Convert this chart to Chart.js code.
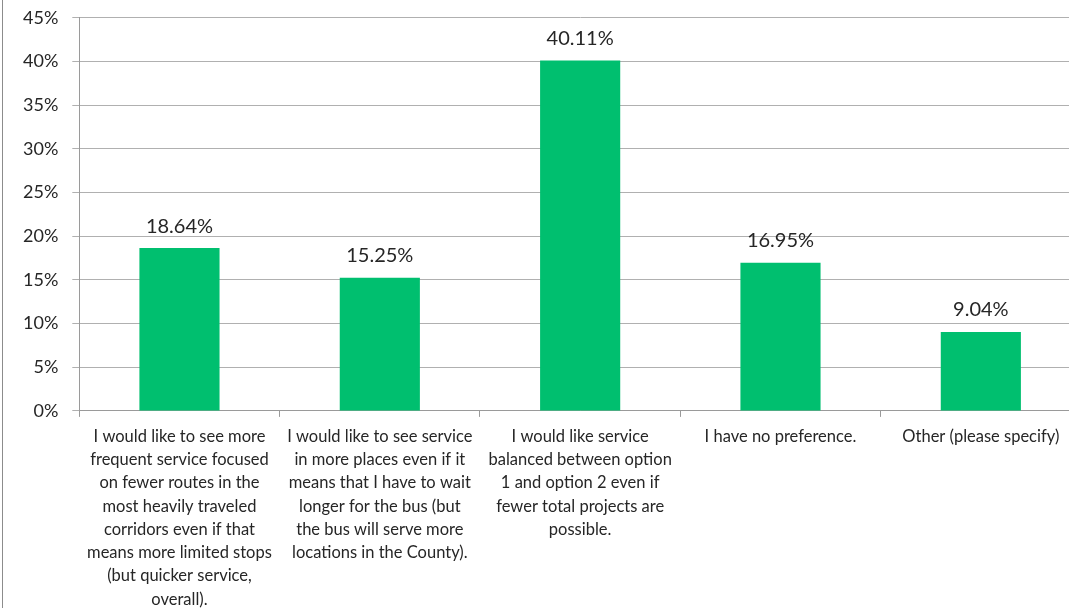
<!DOCTYPE html>
<html>
<head>
<meta charset="utf-8">
<script src="https://cdn.jsdelivr.net/npm/chart.js@4/dist/chart.umd.min.js"></script>
<style>
  html, body { margin: 0; padding: 0; background: #fff; overflow: hidden; }
  #frame { position: absolute; left: 2px; top: 0; width: 1080px; height: 619px; border-left: 1px solid #8c8c8c; overflow: hidden; }
  #chart-wrap { position: absolute; left: 0; top: -7px; width: 1078px; height: 626px; }
</style>
</head>
<body>
<div id="frame">
  <div id="chart-wrap"><canvas id="bar-chart"></canvas></div>
</div>
<script>
// category labels, already split into the lines shown in the picture
const categories = [
    ['I would like to see more', 'frequent service focused', 'on fewer routes in the', 'most heavily traveled',
     'corridors even if that', 'means more limited stops', '(but quicker service,', 'overall).'],
    ['I would like to see service', 'in more places even if it', 'means that I have to wait',
     'longer for the bus (but', 'the bus will serve more', 'locations in the County).'],
    ['I would like service', 'balanced between option', '1 and option 2 even if', 'fewer total projects are', 'possible.'],
    ['I have no preference.'],
    ['Other (please specify)']
];
const percentValues = [18.64, 15.25, 40.11, 16.95, 9.04]; // %
const yTicks = [0, 5, 10, 15, 20, 25, 30, 35, 40, 45];

const barColor = '#00bf6f';
const textColor = '#262626';
const fontFamily = 'Lato, "Open Sans", sans-serif';

// draws the value above each bar
const valueLabels = {
    id: 'valueLabels',
    afterDatasetsDraw(chart) {
        const ctx = chart.ctx;
        const meta = chart.getDatasetMeta(0);
        ctx.save();
        ctx.font = '20px ' + fontFamily;
        ctx.fillStyle = textColor;
        ctx.textAlign = 'center';
        ctx.textBaseline = 'bottom';
        meta.data.forEach((bar, i) => {
            ctx.fillText(percentValues[i].toFixed(2) + '%', bar.x, bar.y - 12);
        });
        ctx.restore();
    }
};

document.addEventListener('DOMContentLoaded', function () {
    var canvas = document.getElementById('bar-chart');

    new Chart(canvas, {
        type: 'bar',
        data: {
            labels: categories,
            datasets: [{
                data: percentValues,
                backgroundColor: barColor,
                borderWidth: 0,
                barPercentage: 0.4,
                categoryPercentage: 1.0
            }]
        },
        options: {
            responsive: true,
            maintainAspectRatio: false,
            animation: false,
            layout: { padding: { top: 1, right: 0, bottom: 0, left: 6 } },
            plugins: {
                legend: { display: false },
                tooltip: { enabled: false }
            },
            scales: {
                x: {
                    grid: {
                        offset: true,
                        drawOnChartArea: false,
                        drawTicks: true,
                        tickLength: 6,
                        color: '#9a9a9a'
                    },
                    border: { color: '#9a9a9a', width: 1 },
                    ticks: {
                        autoSkip: false,
                        maxRotation: 0,
                        minRotation: 0,
                        padding: 8,
                        color: textColor,
                        font: { family: fontFamily, size: 16.5, lineHeight: 1.41 }
                    }
                },
                y: {
                    min: 0,
                    max: 45,
                    afterBuildTicks: (axis) => {
                        axis.ticks = yTicks.map(v => ({ value: v }));
                    },
                    grid: {
                        color: '#b0b0b0',
                        tickLength: 7
                    },
                    border: { color: '#9a9a9a', width: 1 },
                    ticks: {
                        padding: 14,
                        color: textColor,
                        font: { family: fontFamily, size: 18 },
                        callback: (v) => v + '%'
                    }
                }
            }
        },
        plugins: [valueLabels]
    });
});
</script>
</body>
</html>
